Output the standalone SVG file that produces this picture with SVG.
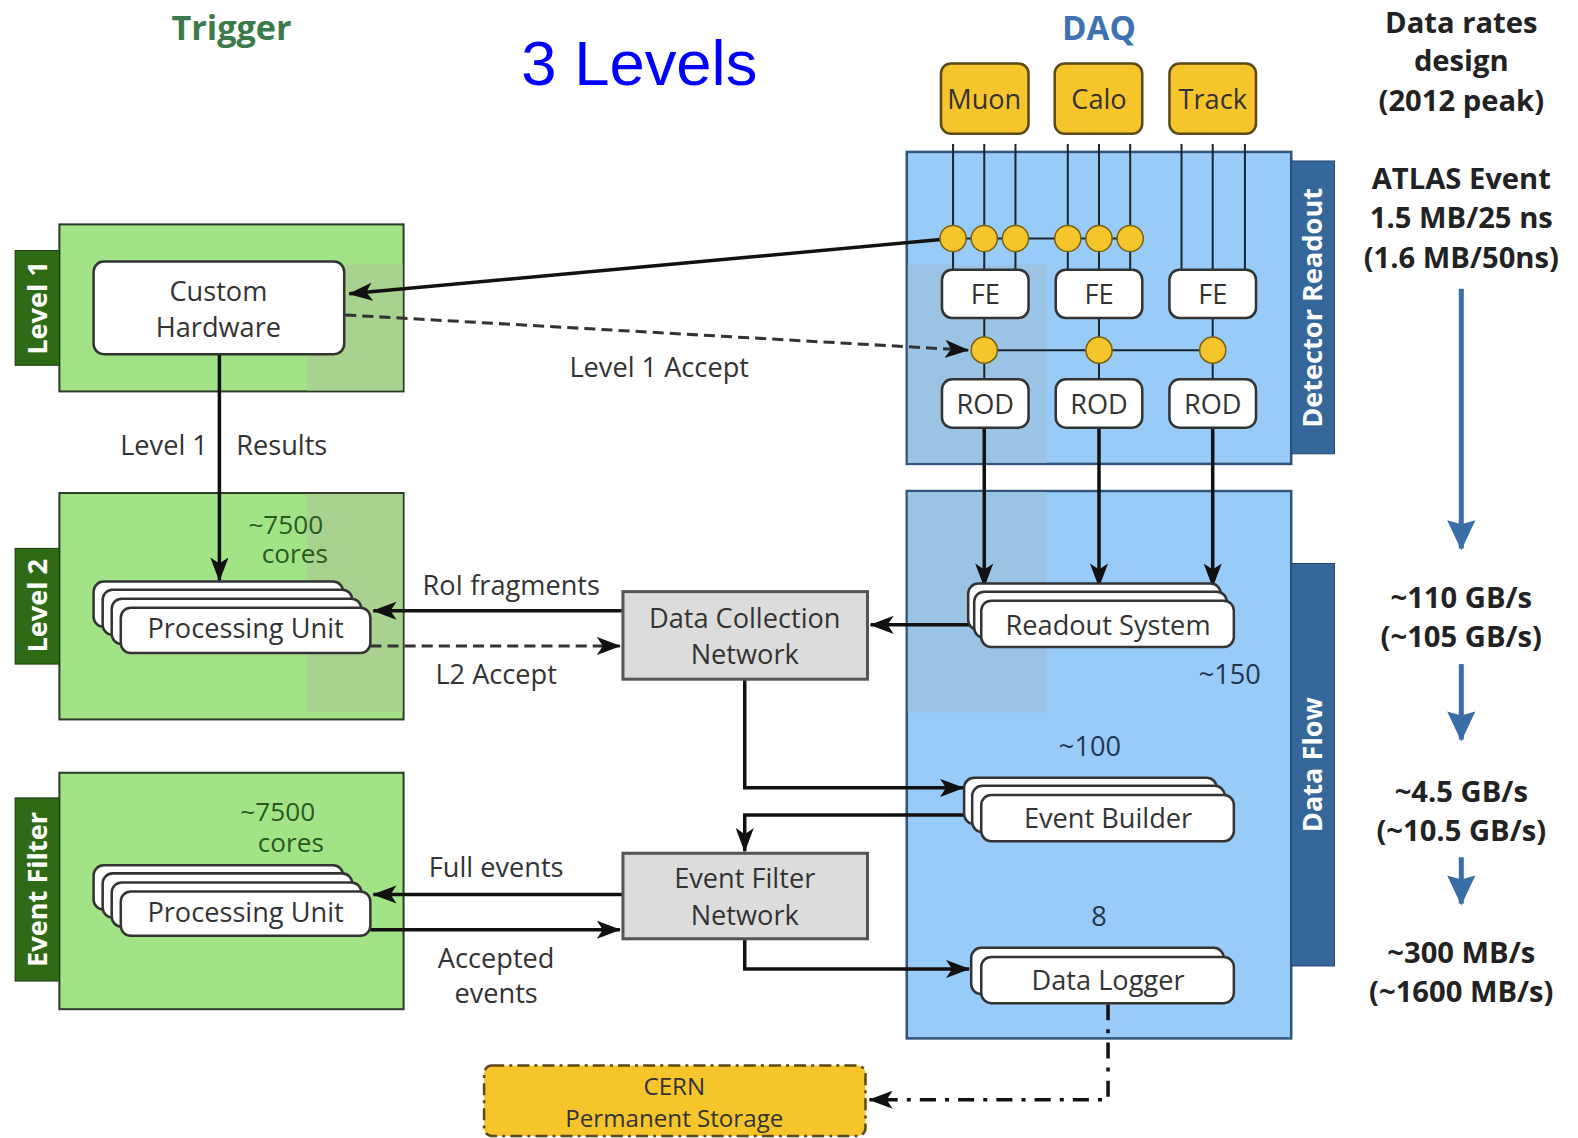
<svg xmlns="http://www.w3.org/2000/svg" width="1578" height="1138" viewBox="0 0 1578 1138">
  <defs>
    <marker id="ah" viewBox="0 0 24 18" refX="23" refY="9" markerWidth="24" markerHeight="18" markerUnits="userSpaceOnUse" orient="auto">
      <path d="M0,0 L24,9 L0,18 L6,9 z" fill="#111"/>
    </marker>
    <marker id="ahBlue" viewBox="0 0 30 30" refX="15" refY="28" markerWidth="30" markerHeight="30" markerUnits="userSpaceOnUse" orient="0">
      <path d="M1,0 L15,4 L29,0 L15,30 z" fill="#3b6ea6"/>
    </marker>
  </defs>
  <style>
    .t { font-family: "Open Sans", "DejaVu Sans", sans-serif; font-size: 27px; fill: #333; text-anchor: middle; }
    .b { font-family: "Open Sans", "DejaVu Sans", sans-serif; font-weight: bold; font-size: 29px; fill: #222; text-anchor: middle; }
    .tab { font-family: "Open Sans", "DejaVu Sans", sans-serif; font-weight: bold; font-size: 27px; fill: #fff; text-anchor: middle; }
    .num { font-family: "Open Sans", "DejaVu Sans", sans-serif; font-size: 27px; fill: #1f3550; text-anchor: middle; }
    .cores { font-family: "Open Sans", "DejaVu Sans", sans-serif; font-size: 26px; fill: #2a5a20; text-anchor: middle; }
    .green { fill: #a2e388; stroke: #2e3a2a; stroke-width: 2; }
    .greenTab { fill: #2f6a14; stroke: #1e3a10; stroke-width: 1; }
    .blue { fill: #99cbf9; stroke: #2f557a; stroke-width: 2.5; }
    .blueTab { fill: #35679a; stroke: #25486e; stroke-width: 1; }
    .shadeG { fill: #a9d18f; }
    .shadeB { fill: #9bc3e4; }
    .wbox { fill: #fff; stroke: #333; stroke-width: 2.5; }
    .ybox { fill: #f6c52c; stroke: #5a4a1a; stroke-width: 2.5; }
    .gbox { fill: #dcdcdc; stroke: #555; stroke-width: 3; }
    .dot { fill: #f6c52c; stroke: #7a6010; stroke-width: 1.5; }
    .wire { stroke: #1a2530; stroke-width: 2; fill: none; }
    .conn { stroke: #111; stroke-width: 3.5; fill: none; }
    .dash { stroke: #333; stroke-width: 3; fill: none; stroke-dasharray: 11 6; }
    .rate { stroke: #3b6ea6; stroke-width: 5; fill: none; }
  </style>

  <rect width="1578" height="1138" fill="#fff"/>

  <g transform="scale(1.0064 1.0062)">
    <!-- headings -->
    <text x="230" y="40" class="b" style="font-size:34px;fill:#3c7a4c">Trigger</text>
    <text x="518" y="84" style="font-family:'Liberation Sans',Arial,sans-serif;font-size:63px;fill:#0000ff">3 Levels</text>
    <text x="1092" y="40" class="b" style="font-size:33px;fill:#3f72b0">DAQ</text>

    <!-- data rate column -->
    <g id="rates">
      <text x="1452" y="33" class="b">Data rates</text>
      <text x="1452" y="71" class="b">design</text>
      <text x="1452" y="110" class="b">(2012 peak)</text>
      <text x="1452" y="188" class="b">ATLAS Event</text>
      <text x="1452" y="227" class="b">1.5 MB/25 ns</text>
      <text x="1452" y="266" class="b">(1.6 MB/50ns)</text>
      <line x1="1452" y1="287" x2="1452" y2="545" class="rate" marker-end="url(#ahBlue)"/>
      <text x="1452" y="604" class="b">~110 GB/s</text>
      <text x="1452" y="643" class="b">(~105 GB/s)</text>
      <line x1="1452" y1="660" x2="1452" y2="735" class="rate" marker-end="url(#ahBlue)"/>
      <text x="1452" y="797" class="b">~4.5 GB/s</text>
      <text x="1452" y="836" class="b">(~10.5 GB/s)</text>
      <line x1="1452" y1="852" x2="1452" y2="898" class="rate" marker-end="url(#ahBlue)"/>
      <text x="1452" y="957" class="b">~300 MB/s</text>
      <text x="1452" y="996" class="b">(~1600 MB/s)</text>
    </g>

    <!-- trigger stages -->
    <g id="level1">
      <rect x="59" y="223" width="342" height="166" class="green"/>
      <rect x="305" y="263" width="95" height="125" class="shadeG"/>
      <rect x="15" y="249" width="44" height="114" class="greenTab"/>
      <text transform="translate(37,306) rotate(-90)" y="10" class="tab">Level 1</text>
    </g>
    <g id="level2">
      <rect x="59" y="490" width="342" height="225" class="green"/>
      <rect x="305" y="491" width="95" height="217" class="shadeG"/>
      <rect x="15" y="545" width="44" height="115" class="greenTab"/>
      <text transform="translate(37,602) rotate(-90)" y="10" class="tab">Level 2</text>
    </g>
    <g id="event-filter">
      <rect x="59" y="768" width="342" height="235" class="green"/>
      <rect x="15" y="793" width="44" height="182" class="greenTab"/>
      <text transform="translate(37,884) rotate(-90)" y="10" class="tab">Event Filter</text>
    </g>

    <!-- DAQ blocks -->
    <g id="detector-readout">
      <rect x="901" y="151" width="382" height="310" class="blue"/>
      <rect x="902" y="263" width="138" height="197" class="shadeB"/>
      <rect x="1283" y="160" width="43" height="291" class="blueTab"/>
      <text transform="translate(1304,306) rotate(-90)" y="10" class="tab">Detector Readout</text>
    </g>
    <g id="data-flow">
      <rect x="901" y="488" width="382" height="544" class="blue"/>
      <rect x="902" y="489" width="138" height="219" class="shadeB"/>
      <rect x="1283" y="560" width="43" height="400" class="blueTab"/>
      <text transform="translate(1304,760) rotate(-90)" y="10" class="tab">Data Flow</text>
    </g>

    <!-- detector wiring inside the readout block -->
    <g id="readout-wires">
      <path class="wire" d="M947,143V268 M978,143V268 M1009,143V268 M1061,143V268 M1092,143V268 M1123,143V268 M1174,143V268 M1205,143V268 M1237,143V268"/>
      <path class="wire" d="M947,237H1123"/>
      <path class="wire" d="M978,316V377 M1092,316V377 M1205,316V377 M978,348H1205"/>
    </g>

    <!-- connectors -->
    <g id="connectors">
      <path class="conn" stroke-width="2.5" d="M935,238 L347,292" marker-end="url(#ah)"/>
      <path class="dash" stroke-width="2.5" d="M343,313 L962,348" marker-end="url(#ah)"/>
      <path class="conn" d="M218,352 V577" marker-end="url(#ah)"/>
      <path class="conn" d="M978,425 V583" marker-end="url(#ah)"/>
      <path class="conn" d="M1092,425 V583" marker-end="url(#ah)"/>
      <path class="conn" d="M1205,425 V583" marker-end="url(#ah)"/>
      <path class="conn" d="M965,621 H865" marker-end="url(#ah)"/>
      <path class="conn" d="M619,607 H371" marker-end="url(#ah)"/>
      <path class="dash" d="M368,642 H616" marker-end="url(#ah)"/>
      <path class="conn" d="M740,675 V783 H957" marker-end="url(#ah)"/>
      <path class="conn" d="M960,810 H740 V846" marker-end="url(#ah)"/>
      <path class="conn" d="M619,889 H371" marker-end="url(#ah)"/>
      <path class="conn" d="M368,924 H616" marker-end="url(#ah)"/>
      <path class="conn" d="M740,933 V963 H963" marker-end="url(#ah)"/>
      <path class="conn" stroke-dasharray="16 9 4 9" d="M1101,998 V1093 H864" marker-end="url(#ah)"/>
    </g>

    <!-- detector sources -->
    <g id="muon">
      <rect x="935" y="63" width="87" height="70" rx="10" class="ybox"/>
      <text x="978" y="108" class="t">Muon</text>
    </g>
    <g id="calo">
      <rect x="1048" y="63" width="87" height="70" rx="10" class="ybox"/>
      <text x="1092" y="108" class="t">Calo</text>
    </g>
    <g id="track">
      <rect x="1162" y="63" width="86" height="70" rx="10" class="ybox"/>
      <text x="1205" y="108" class="t">Track</text>
    </g>

    <!-- trigger tap points -->
    <g id="trigger-taps">
      <circle cx="947" cy="237" r="13" class="dot"/>
      <circle cx="978" cy="237" r="13" class="dot"/>
      <circle cx="1009" cy="237" r="13" class="dot"/>
      <circle cx="1061" cy="237" r="13" class="dot"/>
      <circle cx="1092" cy="237" r="13" class="dot"/>
      <circle cx="1123" cy="237" r="13" class="dot"/>
    </g>
    <g id="accept-taps">
      <circle cx="978" cy="348" r="13" class="dot"/>
      <circle cx="1092" cy="348" r="13" class="dot"/>
      <circle cx="1205" cy="348" r="13" class="dot"/>
    </g>

    <g id="fe-muon"><rect x="936" y="268" width="86" height="48" rx="10" class="wbox"/><text x="979" y="302" class="t">FE</text></g>
    <g id="fe-calo"><rect x="1049" y="268" width="86" height="48" rx="10" class="wbox"/><text x="1092" y="302" class="t">FE</text></g>
    <g id="fe-track"><rect x="1162" y="268" width="86" height="48" rx="10" class="wbox"/><text x="1205" y="302" class="t">FE</text></g>
    <g id="rod-muon"><rect x="936" y="377" width="86" height="48" rx="10" class="wbox"/><text x="979" y="411" class="t">ROD</text></g>
    <g id="rod-calo"><rect x="1049" y="377" width="86" height="48" rx="10" class="wbox"/><text x="1092" y="411" class="t">ROD</text></g>
    <g id="rod-track"><rect x="1162" y="377" width="86" height="48" rx="10" class="wbox"/><text x="1205" y="411" class="t">ROD</text></g>

    <!-- trigger processing -->
    <g id="custom-hardware">
      <rect x="93" y="260" width="249" height="92" rx="10" class="wbox"/>
      <text x="217" y="299" class="t">Custom</text>
      <text x="217" y="335" class="t">Hardware</text>
    </g>

    <g id="l2-processing">
      <rect x="93" y="578" width="248" height="45" rx="10" class="wbox"/>
      <rect x="102" y="586" width="248" height="45" rx="10" class="wbox"/>
      <rect x="111" y="595" width="248" height="45" rx="10" class="wbox"/>
      <rect x="120" y="604" width="248" height="45" rx="10" class="wbox"/>
      <text x="244" y="634" class="t">Processing Unit</text>
      <text x="284" y="531" class="cores">~7500</text>
      <text x="293" y="560" class="cores">cores</text>
    </g>

    <g id="ef-processing">
      <rect x="93" y="860" width="248" height="44" rx="10" class="wbox"/>
      <rect x="102" y="868" width="248" height="44" rx="10" class="wbox"/>
      <rect x="111" y="877" width="248" height="44" rx="10" class="wbox"/>
      <rect x="120" y="886" width="248" height="44" rx="10" class="wbox"/>
      <text x="244" y="916" class="t">Processing Unit</text>
      <text x="276" y="816" class="cores">~7500</text>
      <text x="289" y="847" class="cores">cores</text>
    </g>

    <!-- networks -->
    <g id="data-collection-network">
      <rect x="619" y="588" width="243" height="87" class="gbox"/>
      <text x="740" y="624" class="t">Data Collection</text>
      <text x="740" y="660" class="t">Network</text>
    </g>
    <g id="event-filter-network">
      <rect x="619" y="848" width="243" height="85" class="gbox"/>
      <text x="740" y="883" class="t">Event Filter</text>
      <text x="740" y="919" class="t">Network</text>
    </g>

    <!-- data flow nodes -->
    <g id="readout-system">
      <rect x="962" y="580" width="251" height="46" rx="10" class="wbox"/>
      <rect x="968" y="588" width="251" height="46" rx="10" class="wbox"/>
      <rect x="975" y="597" width="251" height="46" rx="10" class="wbox"/>
      <text x="1101" y="631" class="t">Readout System</text>
      <text x="1222" y="680" class="num">~150</text>
    </g>
    <g id="event-builder">
      <rect x="958" y="773" width="251" height="46" rx="10" class="wbox"/>
      <rect x="966" y="781" width="251" height="46" rx="10" class="wbox"/>
      <rect x="975" y="790" width="251" height="46" rx="10" class="wbox"/>
      <text x="1101" y="823" class="t">Event Builder</text>
      <text x="1083" y="751" class="num">~100</text>
    </g>
    <g id="data-logger">
      <rect x="965" y="942" width="251" height="46" rx="10" class="wbox"/>
      <rect x="975" y="951" width="251" height="46" rx="10" class="wbox"/>
      <text x="1101" y="984" class="t">Data Logger</text>
      <text x="1092" y="920" class="num">8</text>
    </g>

    <g id="cern-storage">
      <rect x="481" y="1059" width="379" height="70" rx="8" class="ybox" stroke-dasharray="12 5 3 5"/>
      <text x="670" y="1088" class="t" style="font-size:24px">CERN</text>
      <text x="670" y="1120" class="t" style="font-size:24px">Permanent Storage</text>
    </g>

    <!-- connector labels -->
    <g id="labels">
      <text x="163" y="452" class="t">Level 1</text>
      <text x="280" y="452" class="t">Results</text>
      <text x="655" y="375" class="t">Level 1 Accept</text>
      <text x="508" y="591" class="t">RoI fragments</text>
      <text x="493" y="680" class="t">L2 Accept</text>
      <text x="493" y="872" class="t">Full events</text>
      <text x="493" y="962" class="t">Accepted</text>
      <text x="493" y="997" class="t">events</text>
    </g>
  </g>
</svg>
